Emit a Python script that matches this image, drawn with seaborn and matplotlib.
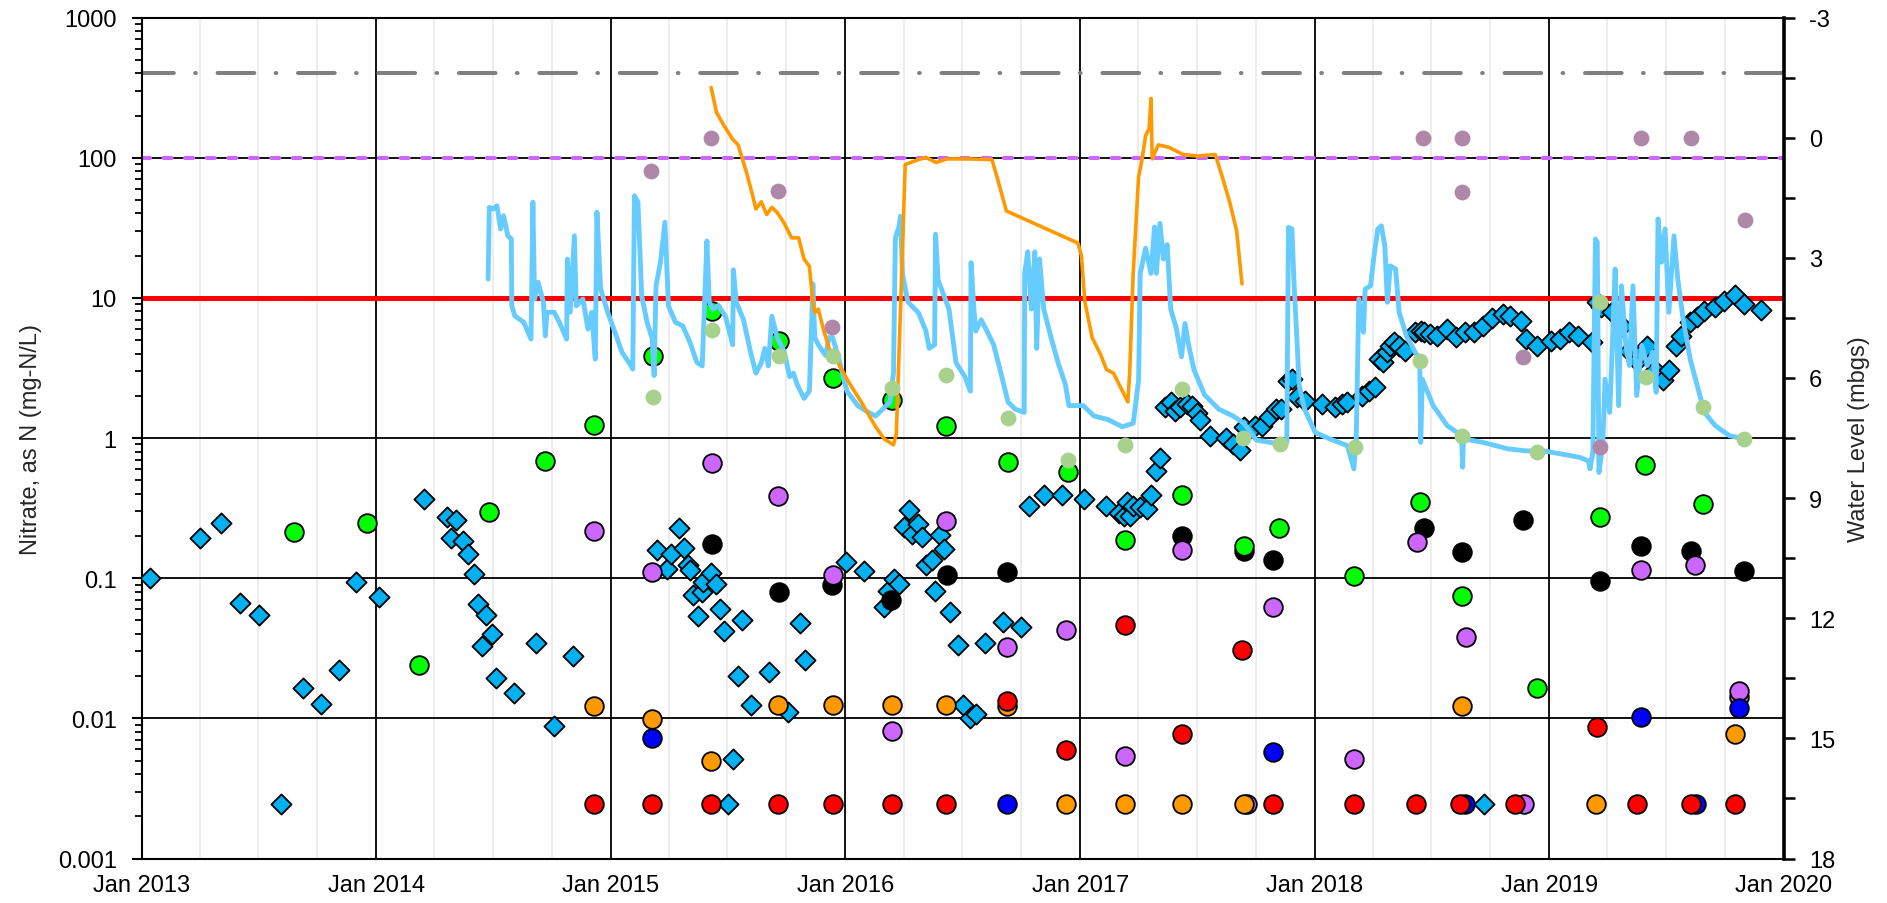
import numpy as np
import pandas as pd
import seaborn as sns
import matplotlib.pyplot as plt
import matplotlib.dates as mdates
from matplotlib.ticker import LogLocator, MultipleLocator, FuncFormatter, NullFormatter

# ---- nitrate results (left axis, mg-N/L), times as decimal years ----
diamond_t = [2013.035, 2013.249, 2013.34, 2013.419, 2013.5, 2013.594, 2013.688, 2013.765, 2013.842,
             2013.915, 2014.013, 2014.203, 2014.302, 2014.34, 2014.317, 2014.37, 2014.393, 2014.416,
             2014.434, 2014.466, 2014.451, 2014.492, 2014.512, 2014.587, 2014.682, 2014.756, 2014.838,
             2015.198, 2015.24, 2015.259, 2015.29, 2015.313, 2015.33, 2015.337, 2015.349, 2015.371,
             2015.387, 2015.394, 2015.427, 2015.447, 2015.465, 2015.482, 2015.502, 2015.523, 2015.542,
             2015.559, 2015.596, 2015.675, 2015.756, 2015.806, 2015.829, 2016.002, 2016.079, 2016.165,
             2016.18, 2016.208, 2016.228, 2016.251, 2016.27, 2016.282, 2016.308, 2016.327, 2016.343,
             2016.367, 2016.38, 2016.403, 2016.42, 2016.446, 2016.479, 2016.502, 2016.532, 2016.555,
             2016.593, 2016.672, 2016.748, 2016.783, 2016.844, 2016.92, 2017.015, 2017.111, 2017.164,
             2017.184, 2017.197, 2017.21, 2017.225, 2017.255, 2017.282, 2017.301, 2017.321, 2017.339,
             2017.362, 2017.385, 2017.405, 2017.426, 2017.453, 2017.476, 2017.496, 2017.511, 2017.552,
             2017.621, 2017.651, 2017.682, 2017.697, 2017.743, 2017.773, 2017.803, 2017.834, 2017.857,
             2017.887, 2017.902, 2017.925, 2017.956, 2018.031, 2018.085, 2018.116, 2018.138, 2018.199,
             2018.23, 2018.257, 2018.275, 2018.291, 2018.306, 2018.321, 2018.336, 2018.359, 2018.382,
             2018.428, 2018.451, 2018.466, 2018.489, 2018.519, 2018.564, 2018.603, 2018.641, 2018.68,
             2018.717, 2018.721, 2018.755, 2018.8, 2018.831, 2018.877, 2018.899, 2018.945, 2019.006,
             2019.044, 2019.082, 2019.12, 2019.181, 2019.204, 2019.219, 2019.265, 2019.311, 2019.341,
             2019.372, 2019.394, 2019.417, 2019.448, 2019.486, 2019.509, 2019.539, 2019.562, 2019.6,
             2019.631, 2019.661, 2019.707, 2019.744, 2019.79, 2019.828, 2019.904]
diamond_v = [0.101, 0.194, 0.248, 0.067, 0.055, 0.00245, 0.0164, 0.0126, 0.0222,
             0.094, 0.074, 0.367, 0.275, 0.261, 0.194, 0.183, 0.149, 0.107,
             0.065, 0.055, 0.033, 0.040, 0.0193, 0.0151, 0.0343, 0.00887, 0.028,
             0.159, 0.117, 0.149, 0.227, 0.164, 0.125, 0.114, 0.076, 0.054,
             0.080, 0.094, 0.109, 0.091, 0.060, 0.042, 0.00245, 0.0051, 0.020,
             0.050, 0.0125, 0.0215, 0.0111, 0.048, 0.026, 0.131, 0.112, 0.062,
             0.081, 0.099, 0.091, 0.233, 0.306, 0.207, 0.244, 0.198, 0.125,
             0.135, 0.081, 0.203, 0.161, 0.057, 0.0334, 0.0125, 0.010, 0.0107,
             0.0345, 0.049, 0.0447, 0.33, 0.39, 0.39, 0.37, 0.33, 0.29,
             0.277, 0.35, 0.277, 0.33, 0.32, 0.31, 0.39, 0.58, 0.72,
             1.66, 1.81, 1.56, 1.66, 1.74, 1.70, 1.52, 1.34, 1.04,
             1.0, 0.90, 0.82, 1.19, 1.22, 1.22, 1.41, 1.61, 1.61,
             2.57, 2.64, 1.95, 1.85, 1.75, 1.66, 1.75, 1.82, 2.0,
             2.17, 2.3, 3.66, 3.47, 4.08, 4.56, 4.82, 4.56, 4.2,
             5.68, 5.8, 5.68, 5.52, 5.37, 6.0, 5.23, 5.68, 5.68,
             6.32, 0.00245, 7.14, 7.67, 7.4, 6.87, 5.08, 4.56, 4.94,
             5.08, 5.68, 5.37, 4.82, 9.3, 8.6, 7.9, 6.32, 4.2,
             3.56, 4.08, 4.56, 3.07, 2.61, 3.07, 4.56, 5.37, 6.7,
             7.26, 8.09, 8.55, 9.55, 10.4, 9.03, 8.23]

green_t = [2013.65, 2013.96, 2014.183, 2014.479, 2014.721, 2014.93, 2015.18, 2015.431, 2015.718,
           2015.946, 2016.197, 2016.43, 2016.692, 2016.946, 2017.191, 2017.434, 2017.697, 2017.846,
           2018.166, 2018.447, 2018.628, 2018.948, 2019.214, 2019.406, 2019.653]
green_v = [0.212, 0.248, 0.024, 0.298, 0.689, 1.24, 3.87, 8.1, 4.9,
           2.68, 1.86, 1.22, 0.68, 0.57, 0.187, 0.39, 0.17, 0.228,
           0.104, 0.352, 0.075, 0.0164, 0.272, 0.645, 0.338]

black_t = [2015.43, 2015.716, 2015.944, 2016.194, 2016.431, 2016.689, 2017.434, 2017.697, 2017.823,
           2018.466, 2018.628, 2018.889, 2019.214, 2019.39, 2019.603, 2019.828]
black_v = [0.175, 0.080, 0.089, 0.070, 0.105, 0.110, 0.2, 0.157, 0.135,
           0.227, 0.153, 0.261, 0.095, 0.17, 0.156, 0.113]

purple_t = [2014.929, 2015.177, 2015.431, 2015.715, 2015.946, 2016.197, 2016.43, 2016.689, 2016.94,
            2017.191, 2017.434, 2017.712, 2017.823, 2018.166, 2018.435, 2018.645, 2018.892, 2019.39,
            2019.62, 2019.81, 2019.81]
purple_v = [0.218, 0.111, 0.66, 0.383, 0.106, 0.0081, 0.254, 0.0324, 0.0429,
            0.00542, 0.158, 0.00245, 0.0627, 0.0051, 0.18, 0.0378, 0.00245, 0.114,
            0.125, 0.0141, 0.0156]

orange_t = [2014.929, 2015.177, 2015.428, 2015.715, 2015.946, 2016.197, 2016.43, 2016.689, 2016.94,
            2017.191, 2017.434, 2017.697, 2018.628, 2019.2, 2019.79]
orange_v = [0.0123, 0.0099, 0.00499, 0.0124, 0.0124, 0.0124, 0.0124, 0.0122, 0.00245,
            0.00245, 0.00245, 0.00245, 0.0123, 0.00245, 0.0077]

blue_t = [2015.177, 2016.689, 2017.823, 2018.64, 2019.39, 2019.623, 2019.81]
blue_v = [0.0072, 0.00245, 0.00573, 0.00245, 0.0103, 0.00245, 0.0119]

red_t = [2014.929, 2015.177, 2015.428, 2015.715, 2015.946, 2016.197, 2016.43, 2016.689, 2016.94,
         2017.191, 2017.434, 2017.689, 2017.823, 2018.166, 2018.431, 2018.618, 2018.854, 2019.203,
         2019.375, 2019.603, 2019.79]
red_v = [0.00245, 0.00245, 0.00245, 0.00245, 0.00245, 0.00245, 0.00245, 0.0134, 0.00597,
         0.0466, 0.00773, 0.0309, 0.00245, 0.00245, 0.00245, 0.00245, 0.00245, 0.00863,
         0.00245, 0.00245, 0.00245]

# reference levels (left axis)
ref_grey = 400
ref_purple = 100
ref_red = 10

# ---- water levels (right axis, mbgs) ----
wl_blue_t = [2014.477, 2014.482, 2014.5, 2014.515, 2014.53, 2014.543, 2014.561, 2014.576, 2014.578,
             2014.591, 2014.629, 2014.66, 2014.668, 2014.675, 2014.69, 2014.713, 2014.721, 2014.728,
             2014.759, 2014.781, 2014.812, 2014.815, 2014.827, 2014.845, 2014.853, 2014.881, 2014.903,
             2014.919, 2014.934, 2014.941, 2014.957, 2014.987, 2015.018, 2015.048, 2015.086, 2015.094,
             2015.101, 2015.116, 2015.132, 2015.155, 2015.177, 2015.185, 2015.193, 2015.212, 2015.231,
             2015.246, 2015.276, 2015.307, 2015.337, 2015.367, 2015.39, 2015.41, 2015.42, 2015.436,
             2015.459, 2015.489, 2015.52, 2015.523, 2015.535, 2015.566, 2015.596, 2015.619, 2015.642,
             2015.657, 2015.672, 2015.687, 2015.71, 2015.74, 2015.763, 2015.779, 2015.794, 2015.824,
             2015.847, 2015.862, 2015.87, 2015.885, 2015.916, 2015.931, 2015.946, 2015.969, 2016.007,
             2016.053, 2016.098, 2016.129, 2016.159, 2016.19, 2016.205, 2016.213, 2016.228, 2016.235,
             2016.243, 2016.266, 2016.311, 2016.342, 2016.357, 2016.38, 2016.384, 2016.395, 2016.418,
             2016.441, 2016.471, 2016.509, 2016.532, 2016.535, 2016.547, 2016.555, 2016.578, 2016.601,
             2016.631, 2016.662, 2016.692, 2016.723, 2016.761, 2016.763, 2016.776, 2016.791, 2016.806,
             2016.814, 2016.826, 2016.844, 2016.875, 2016.905, 2016.936, 2016.951, 2017.012, 2017.058,
             2017.118, 2017.179, 2017.225, 2017.248, 2017.255, 2017.278, 2017.301, 2017.316, 2017.324,
             2017.339, 2017.354, 2017.37, 2017.385, 2017.408, 2017.431, 2017.446, 2017.461, 2017.484,
             2017.529, 2017.59, 2017.651, 2017.697, 2017.75, 2017.82, 2017.88, 2017.887, 2017.902,
             2017.91, 2017.933, 2017.956, 2018.001, 2018.062, 2018.138, 2018.166, 2018.176, 2018.187,
             2018.207, 2018.214, 2018.237, 2018.252, 2018.268, 2018.283, 2018.298, 2018.309, 2018.321,
             2018.344, 2018.359, 2018.39, 2018.428, 2018.447, 2018.451, 2018.458, 2018.504, 2018.564,
             2018.625, 2018.63, 2018.633, 2018.717, 2018.823, 2018.899, 2018.976, 2019.052, 2019.128,
             2019.166, 2019.173, 2019.185, 2019.196, 2019.204, 2019.211, 2019.227, 2019.237, 2019.257,
             2019.268, 2019.28, 2019.295, 2019.307, 2019.326, 2019.341, 2019.356, 2019.372, 2019.394,
             2019.417, 2019.44, 2019.455, 2019.463, 2019.478, 2019.493, 2019.509, 2019.531, 2019.547,
             2019.57, 2019.6, 2019.63, 2019.661, 2019.707, 2019.767, 2019.828]
wl_blue_v = [3.53, 1.74, 1.78, 1.70, 2.28, 1.95, 2.45, 2.53, 4.20,
             4.45, 4.61, 5.03, 1.61, 4.03, 3.61, 4.11, 4.95, 4.36,
             4.36, 4.61, 5.03, 3.03, 4.36, 2.45, 4.20, 4.03, 4.78,
             4.36, 5.53, 1.86, 3.78, 4.36, 4.86, 5.36, 5.69, 5.78,
             1.45, 1.61, 3.95, 4.61, 5.03, 5.94, 3.70, 3.11, 2.11,
             4.20, 4.61, 4.70, 5.10, 5.61, 5.70, 2.58, 4.10, 4.28,
             4.19, 4.46, 5.17, 3.30, 4.10, 4.55, 5.35, 5.88, 5.62,
             5.26, 5.70, 4.46, 4.99, 5.35, 5.97, 5.88, 6.15, 6.51,
             6.33, 3.65, 4.99, 5.17, 5.44, 4.99, 4.99, 5.44, 6.33,
             6.69, 6.86, 6.95, 6.78, 6.60, 5.88, 2.50, 2.23, 1.96,
             3.39, 4.10, 4.37, 4.81, 5.26, 5.17, 2.41, 3.56, 3.92,
             4.28, 5.62, 5.97, 6.33, 3.12, 4.28, 4.83, 4.55, 4.81,
             5.17, 5.88, 6.60, 6.78, 6.86, 3.39, 2.85, 4.28, 2.85,
             5.26, 3.03, 4.28, 4.99, 5.62, 6.16, 6.69, 6.69, 6.95,
             7.04, 7.22, 7.13, 6.06, 3.39, 2.76, 3.39, 2.23, 3.39,
             2.14, 3.03, 2.67, 4.28, 4.74, 5.47, 4.64, 5.17, 5.79,
             6.42, 6.78, 6.95, 7.13, 7.55, 7.62, 7.61, 2.24, 2.28,
             3.53, 6.19, 6.78, 7.36, 7.52, 7.69, 8.27, 7.52, 4.03,
             4.86, 3.78, 3.70, 2.95, 2.28, 2.20, 2.70, 4.11, 3.20,
             3.28, 4.36, 4.95, 5.36, 5.53, 7.61, 6.03, 6.69, 7.19,
             7.44, 8.23, 7.52, 7.61, 7.77, 7.82, 7.82, 7.90, 7.98,
             8.07, 8.27, 7.86, 2.53, 2.61, 8.36, 7.69, 6.03, 6.86,
             5.19, 3.28, 6.69, 3.70, 5.19, 5.69, 3.70, 6.44, 5.19,
             5.69, 5.36, 6.36, 2.03, 3.11, 2.28, 4.36, 2.45, 3.53,
             4.53, 5.53, 6.19, 6.86, 7.19, 7.44, 7.52]

wl_orange_t = [2015.428, 2015.451, 2015.482, 2015.52, 2015.543, 2015.58, 2015.604, 2015.619, 2015.642,
               2015.665, 2015.687, 2015.71, 2015.74, 2015.771, 2015.801, 2015.824, 2015.847, 2015.862,
               2015.87, 2015.885, 2015.908, 2015.931, 2015.969, 2016.015, 2016.068, 2016.129, 2016.167,
               2016.205, 2016.217, 2016.235, 2016.255, 2016.296, 2016.342, 2016.387, 2016.433, 2016.525,
               2016.624, 2016.654, 2016.685, 2016.989, 2017.004, 2017.019, 2017.05, 2017.088, 2017.111,
               2017.141, 2017.164, 2017.187, 2017.202, 2017.21, 2017.225, 2017.248, 2017.263, 2017.278,
               2017.293, 2017.301, 2017.306, 2017.332, 2017.377, 2017.438, 2017.499, 2017.575, 2017.605,
               2017.636, 2017.666, 2017.689]
wl_orange_v = [-1.25, -0.63, -0.31, 0.04, 0.18, 0.89, 1.42, 1.78, 1.6,
               1.92, 1.74, 1.87, 2.14, 2.5, 2.5, 3.03, 3.21, 4.1,
               4.37, 4.28, 4.81, 5.26, 5.62, 6.11, 6.6, 7.22, 7.53,
               7.67, 7.4, 4.28, 0.67, 0.58, 0.49, 0.62, 0.53, 0.53,
               0.55, 1.16, 1.83, 2.63, 2.94, 4.1, 4.99, 5.44, 5.79,
               5.88, 6.15, 6.42, 6.6, 5.88, 3.39, 0.98, 0.53, -0.05,
               -0.23, -0.98, 0.53, 0.18, 0.24, 0.42, 0.46, 0.42, 0.98,
               1.6, 2.32, 3.65]

# manual dips
dip_green_t = [2015.182, 2015.431, 2015.718, 2015.946, 2016.197, 2016.43, 2016.692, 2016.946, 2017.191,
               2017.434, 2017.692, 2017.849, 2018.169, 2018.447, 2018.628, 2018.945, 2019.216, 2019.41,
               2019.656, 2019.831]
dip_green_v = [6.47, 4.8, 5.44, 5.44, 6.26, 5.93, 7.0, 8.04, 7.67,
               6.27, 7.49, 7.65, 7.72, 5.58, 7.46, 7.84, 4.11, 5.97,
               6.73, 7.52]

dip_mauve_t = [2015.17, 2015.428, 2015.715, 2015.943, 2018.46, 2018.628, 2018.628, 2018.889, 2019.214,
               2019.391, 2019.604, 2019.834]
dip_mauve_v = [0.83, 0.0, 1.33, 4.73, 0.0, 0.0, 1.36, 5.47, 7.73,
               0.0, 0.0, 2.06]


def to_date(years):
    out = []
    for y in years:
        yr = int(y)
        start = pd.Timestamp(yr, 1, 1)
        end = pd.Timestamp(yr + 1, 1, 1)
        out.append(start + (end - start) * (y - yr))
    return pd.to_datetime(out)


sns.set_style('white')
plt.rcParams['font.family'] = ['Liberation Sans', 'DejaVu Sans']
plt.rcParams['axes.unicode_minus'] = False

fig = plt.figure(figsize=(18.87, 9.04), dpi=100)
ax = fig.add_axes([0.0751, 0.0492, 0.8703, 0.9303])
ax2 = ax.twinx()

# reference lines
ax.axhline(ref_red, color='#FF0000', lw=3.6, zorder=2)
ax.axhline(ref_purple, color='#CC66FF', lw=2.9, zorder=2, linestyle=(0, (2.0, 3.35)),
           dash_capstyle='round')
ax.axhline(ref_grey, color='#808080', lw=2.9, zorder=2, linestyle=(1.2, (9.1, 5.3, 0.17, 5.4)),
           dash_capstyle='round')

# nitrate samples
sns.scatterplot(x=to_date(diamond_t), y=diamond_v, ax=ax, marker='D', s=105, color='#00B0F0',
                edgecolor='black', linewidth=1.3, zorder=3)
circles = [
    (black_t, black_v, 'black'),
    (green_t, green_v, '#00FF00'),
    (purple_t, purple_v, '#CC66FF'),
    (orange_t, orange_v, '#FF9900'),
    (blue_t, blue_v, '#0000FF'),
    (red_t, red_v, '#FF0000'),
]
for i, (t, v, c) in enumerate(circles):
    sns.scatterplot(x=to_date(t), y=v, ax=ax, marker='o', s=180, color=c,
                    edgecolor='black', linewidth=1.3, zorder=4 + i * 0.1)

# water levels
sns.lineplot(x=to_date(wl_blue_t), y=wl_blue_v, ax=ax2, color='#66CCFF', lw=3.5,
             sort=False, estimator=None, zorder=2)
sns.lineplot(x=to_date(wl_orange_t), y=wl_orange_v, ax=ax2, color='#FF9900', lw=2.6,
             sort=False, estimator=None, zorder=2.5)
sns.scatterplot(x=to_date(dip_green_t), y=dip_green_v, ax=ax2, s=130, color='#A9D18E',
                linewidth=0, zorder=3)
sns.scatterplot(x=to_date(dip_mauve_t), y=dip_mauve_v, ax=ax2, s=130, color='#AF87A9',
                linewidth=0, zorder=3)

# axes setup
ax.set_yscale('log')
ax.set_ylim(0.001, 1000)
ax.set_xlim(pd.Timestamp('2013-01-01'), pd.Timestamp('2020-01-01'))
ax2.set_ylim(18, -3)

ax.xaxis.set_major_locator(mdates.YearLocator())
ax.xaxis.set_minor_locator(mdates.MonthLocator(bymonth=[4, 7, 10]))
ax.xaxis.set_major_formatter(mdates.DateFormatter('%b %Y'))
ax.yaxis.set_major_locator(LogLocator(base=10, numticks=10))
ax.yaxis.set_minor_locator(LogLocator(base=10, subs=np.arange(2, 10), numticks=20))
ax.yaxis.set_major_formatter(FuncFormatter(lambda v, _: f'{v:g}'))
ax.yaxis.set_minor_formatter(NullFormatter())
ax2.yaxis.set_major_locator(MultipleLocator(3))
ax2.yaxis.set_minor_locator(MultipleLocator(1.5))

ax.set_axisbelow(True)
ax.grid(which='major', axis='both', color='black', lw=1.3)
ax.grid(which='minor', axis='x', color='#ECECEC', lw=1.3)
ax2.grid(False)

ax.tick_params(axis='both', which='both', direction='out', colors='black', labelsize=17)
ax.tick_params(axis='y', which='major', length=7, width=1.5, pad=11)
ax.tick_params(axis='y', which='minor', length=5, width=1.3)
ax.tick_params(axis='x', which='both', length=7, width=1.5, pad=4)
ax2.tick_params(axis='y', which='both', direction='out', length=8, width=1.8, labelsize=17,
                pad=10, colors='black')

for s in ['left', 'top', 'bottom']:
    ax.spines[s].set_color('black')
    ax.spines[s].set_linewidth(1.5)
    ax2.spines[s].set_visible(False)
ax2.spines['right'].set_color('black')
ax2.spines['right'].set_linewidth(2.6)

ax.set_xlabel('')
ax.set_ylabel('Nitrate, as N (mg-N/L)', fontsize=17)
ax2.set_ylabel('Water Level (mbgs)', fontsize=17, rotation=90)
ax.yaxis.set_label_coords(-0.061, 0.5)
ax2.yaxis.set_label_coords(1.039, 0.5)

fig.savefig('out.png', dpi=100)
